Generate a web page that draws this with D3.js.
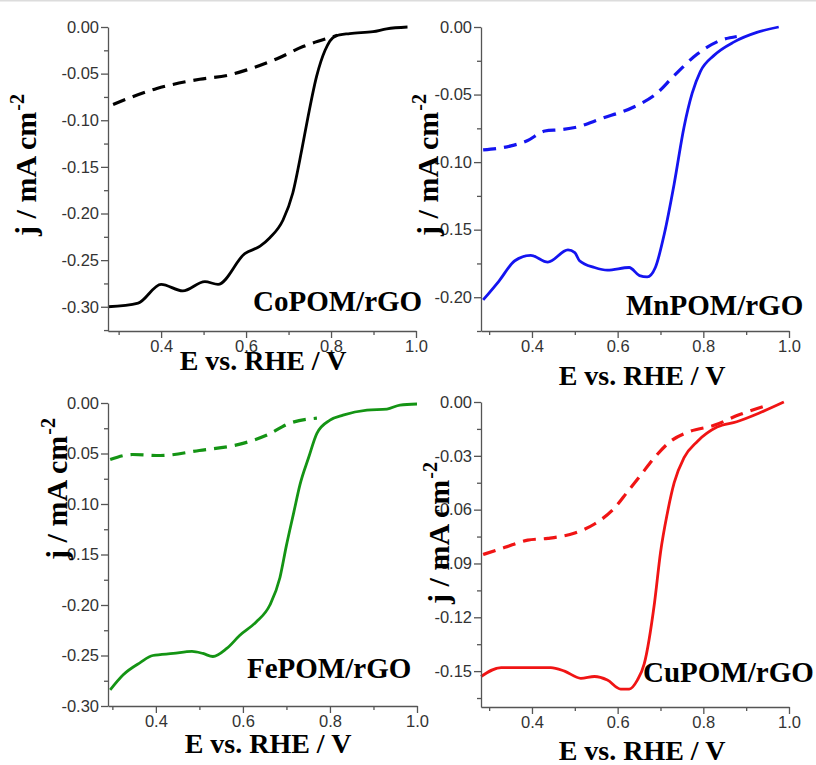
<!DOCTYPE html>
<html>
<head>
<meta charset="utf-8">
<script src="https://cdn.jsdelivr.net/npm/d3@7"></script>
<style>
  body { margin: 0; background: #fff; }
</style>
</head>
<body>
<div id="chart"></div>
<script>
// panel names
let panelNames = ["CoPOM/rGO", "MnPOM/rGO", "FePOM/rGO", "CuPOM/rGO"];

// axis ranges and tick labels
let xDomains = [[0.275, 1.0], [0.281, 1.0], [0.29, 1.0], [0.281, 1.0]];
let yDomains = [[-0.326, 0], [-0.225, 0], [-0.30, 0], [-0.170, 0]];
let xTicks = [0.4, 0.6, 0.8, 1.0];
let xMinor = [0.3, 0.5, 0.7, 0.9];
let yTicks = [
  [0, -0.05, -0.10, -0.15, -0.20, -0.25, -0.30],
  [0, -0.05, -0.10, -0.15, -0.20],
  [0, -0.05, -0.10, -0.15, -0.20, -0.25, -0.30],
  [0, -0.03, -0.06, -0.09, -0.12, -0.15]
];
let yMinor = [
  [-0.025, -0.075, -0.125, -0.175, -0.225, -0.275, -0.325],
  [-0.025, -0.075, -0.125, -0.175, -0.225],
  [-0.025, -0.075, -0.125, -0.175, -0.225, -0.275],
  [-0.015, -0.045, -0.075, -0.105, -0.135, -0.165]
];

// CoPOM/rGO
let coSolidE = [0.275, 0.346, 0.40, 0.451, 0.503, 0.534, 0.597, 0.633, 0.656, 0.687, 0.71, 0.731, 0.746, 0.766, 0.786, 0.809, 0.844, 0.899, 0.931, 0.98];
let coSolidJ = [-0.300, -0.296, -0.276, -0.283, -0.273, -0.276, -0.243, -0.235, -0.226, -0.207, -0.178, -0.132, -0.096, -0.053, -0.025, -0.010, -0.007, -0.005, -0.002, 0];
let coDashE = [0.287, 0.39, 0.491, 0.555, 0.602, 0.673, 0.734, 0.793, 0.815];
let coDashJ = [-0.083, -0.066, -0.056, -0.052, -0.046, -0.034, -0.021, -0.012, -0.009];

// MnPOM/rGO
let mnSolidE = [0.286, 0.323, 0.36, 0.397, 0.437, 0.484, 0.50, 0.511, 0.546, 0.576, 0.627, 0.651, 0.669, 0.688, 0.709, 0.732, 0.755, 0.774, 0.793, 0.825, 0.872, 0.925, 0.976];
let mnSolidJ = [-0.202, -0.188, -0.173, -0.169, -0.174, -0.165, -0.167, -0.173, -0.178, -0.180, -0.178, -0.184, -0.185, -0.178, -0.153, -0.116, -0.074, -0.049, -0.033, -0.021, -0.011, -0.004, 0];
let mnDashE = [0.286, 0.351, 0.39, 0.43, 0.467, 0.506, 0.56, 0.639, 0.688, 0.732, 0.786, 0.839, 0.878];
let mnDashJ = [-0.091, -0.088, -0.084, -0.077, -0.076, -0.074, -0.068, -0.059, -0.050, -0.036, -0.020, -0.010, -0.007];

// FePOM/rGO
let feSolidE = [0.295, 0.325, 0.364, 0.393, 0.44, 0.483, 0.508, 0.531, 0.563, 0.593, 0.63, 0.662, 0.685, 0.70, 0.717, 0.731, 0.751, 0.77, 0.80, 0.83, 0.885, 0.931, 0.961, 1.0];
let feSolidJ = [-0.284, -0.269, -0.257, -0.250, -0.248, -0.246, -0.248, -0.251, -0.243, -0.230, -0.217, -0.200, -0.173, -0.141, -0.108, -0.081, -0.054, -0.030, -0.017, -0.012, -0.007, -0.006, -0.002, -0.001];
let feDashE = [0.295, 0.347, 0.41, 0.50, 0.60, 0.654, 0.708, 0.77];
let feDashJ = [-0.056, -0.051, -0.052, -0.047, -0.040, -0.032, -0.020, -0.015];

// CuPOM/rGO
let cuSolidE = [0.281, 0.328, 0.383, 0.444, 0.476, 0.514, 0.546, 0.576, 0.607, 0.627, 0.646, 0.662, 0.686, 0.70, 0.716, 0.732, 0.755, 0.786, 0.832, 0.878, 0.932, 0.988];
let cuSolidJ = [-0.153, -0.148, -0.148, -0.148, -0.150, -0.154, -0.153, -0.155, -0.160, -0.160, -0.155, -0.146, -0.112, -0.084, -0.062, -0.045, -0.031, -0.022, -0.014, -0.011, -0.006, 0];
let cuDashE = [0.286, 0.337, 0.39, 0.437, 0.50, 0.546, 0.593, 0.623, 0.653, 0.686, 0.723, 0.762, 0.825, 0.885, 0.948];
let cuDashJ = [-0.085, -0.081, -0.077, -0.076, -0.073, -0.068, -0.059, -0.050, -0.041, -0.031, -0.022, -0.017, -0.013, -0.007, -0.002];

let solidE = [coSolidE, mnSolidE, feSolidE, cuSolidE];
let solidJ = [coSolidJ, mnSolidJ, feSolidJ, cuSolidJ];
let dashE = [coDashE, mnDashE, feDashE, cuDashE];
let dashJ = [coDashJ, mnDashJ, feDashJ, cuDashJ];

// layout / style of each panel
let colors = ["#000000", "#1414f0", "#149414", "#f01414"];
let frames = [
  {left: 108, right: 416, top: 27, bottom: 331, yl: [36, 165], xl: [263, 370], nl: [253, 311]},
  {left: 481, right: 789, top: 27, bottom: 331, yl: [438, 165], xl: [642, 385], nl: [626, 315]},
  {left: 108, right: 417, top: 403, bottom: 706, yl: [67, 489], xl: [268, 753], nl: [247, 678]},
  {left: 481, right: 789, top: 402, bottom: 707, yl: [449, 533], xl: [642, 760], nl: [643, 682]}
];

let width = 816,
  height = 765;

// plain hyphen for negative numbers, as in the original figure
const locale = d3.formatLocale({decimal: '.', thousands: ',', grouping: [3], currency: ['', ''], minus: '-'});

const svg = d3.select('#chart').append('svg')
  .attr('width', width)
  .attr('height', height);

svg.append('line')
  .attr('x1', 0).attr('x2', width)
  .attr('y1', 0.5).attr('y2', 0.5)
  .attr('stroke', '#dcdcdc')
  .attr('stroke-width', 2);

function panel(i) {
  const f = frames[i];
  const x = d3.scaleLinear().domain(xDomains[i]).range([f.left, f.right]);
  const y = d3.scaleLinear().domain(yDomains[i]).range([f.bottom, f.top]);
  const g = svg.append('g');

  // curves
  const line = d3.line()
    .x(d => x(d[0]))
    .y(d => y(d[1]))
    .curve(d3.curveMonotoneX);

  g.append('path')
    .datum(dashE[i].map((e, k) => [e, dashJ[i][k]]))
    .attr('fill', 'none')
    .attr('stroke', colors[i])
    .attr('stroke-width', 3.2)
    .attr('stroke-dasharray', '13,8')
    .attr('d', line);

  g.append('path')
    .datum(solidE[i].map((e, k) => [e, solidJ[i][k]]))
    .attr('fill', 'none')
    .attr('stroke', colors[i])
    .attr('stroke-width', 2.8)
    .attr('stroke-linejoin', 'round')
    .attr('d', line);

  // axes
  const tickFont = '"Liberation Sans", Arial, sans-serif';
  g.append('g')
    .attr('transform', `translate(0,${f.bottom})`)
    .call(d3.axisBottom(x).tickValues(xTicks).tickFormat(locale.format('.1f')).tickSize(7).tickPadding(2).tickSizeOuter(0))
    .attr('font-size', 16.5)
    .attr('font-family', tickFont);
  g.append('g')
    .attr('transform', `translate(0,${f.bottom})`)
    .call(d3.axisBottom(x).tickValues(xMinor).tickFormat('').tickSize(4).tickSizeOuter(0))
    .select('.domain').remove();

  g.append('g')
    .attr('transform', `translate(${f.left},0)`)
    .call(d3.axisLeft(y).tickValues(yTicks[i]).tickFormat(locale.format('.2f')).tickSize(7).tickPadding(2).tickSizeOuter(0))
    .attr('font-size', 16.5)
    .attr('font-family', tickFont);
  g.append('g')
    .attr('transform', `translate(${f.left},0)`)
    .call(d3.axisLeft(y).tickValues(yMinor[i].filter(v => v >= yDomains[i][0])).tickFormat('').tickSize(4).tickSizeOuter(0))
    .select('.domain').remove();

  g.selectAll('.domain, .tick line')
    .attr('stroke', '#555')
    .attr('stroke-width', 1.3);
  g.selectAll('.tick text')
    .attr('fill', '#333');

  // axis titles
  const yl = g.append('text')
    .attr('transform', `translate(${f.yl[0]},${f.yl[1]}) rotate(-90)`)
    .attr('text-anchor', 'middle')
    .style('font', 'bold 30px "Liberation Serif", "Times New Roman", serif')
    .attr('fill', '#000');
  yl.append('tspan').text('j / mA cm');
  yl.append('tspan').attr('dy', -12).attr('dx', 1).style('font-size', '20px').text('-2');

  g.append('text')
    .attr('x', f.xl[0])
    .attr('y', f.xl[1])
    .attr('text-anchor', 'middle')
    .style('font', 'bold 28px "Liberation Serif", "Times New Roman", serif')
    .text('E vs. RHE / V');

  g.append('text')
    .attr('x', f.nl[0])
    .attr('y', f.nl[1])
    .style('font', 'bold 29px "Liberation Serif", "Times New Roman", serif')
    .text(panelNames[i]);
}

panelNames.forEach((d, i) => panel(i));
</script>
</body>
</html>
